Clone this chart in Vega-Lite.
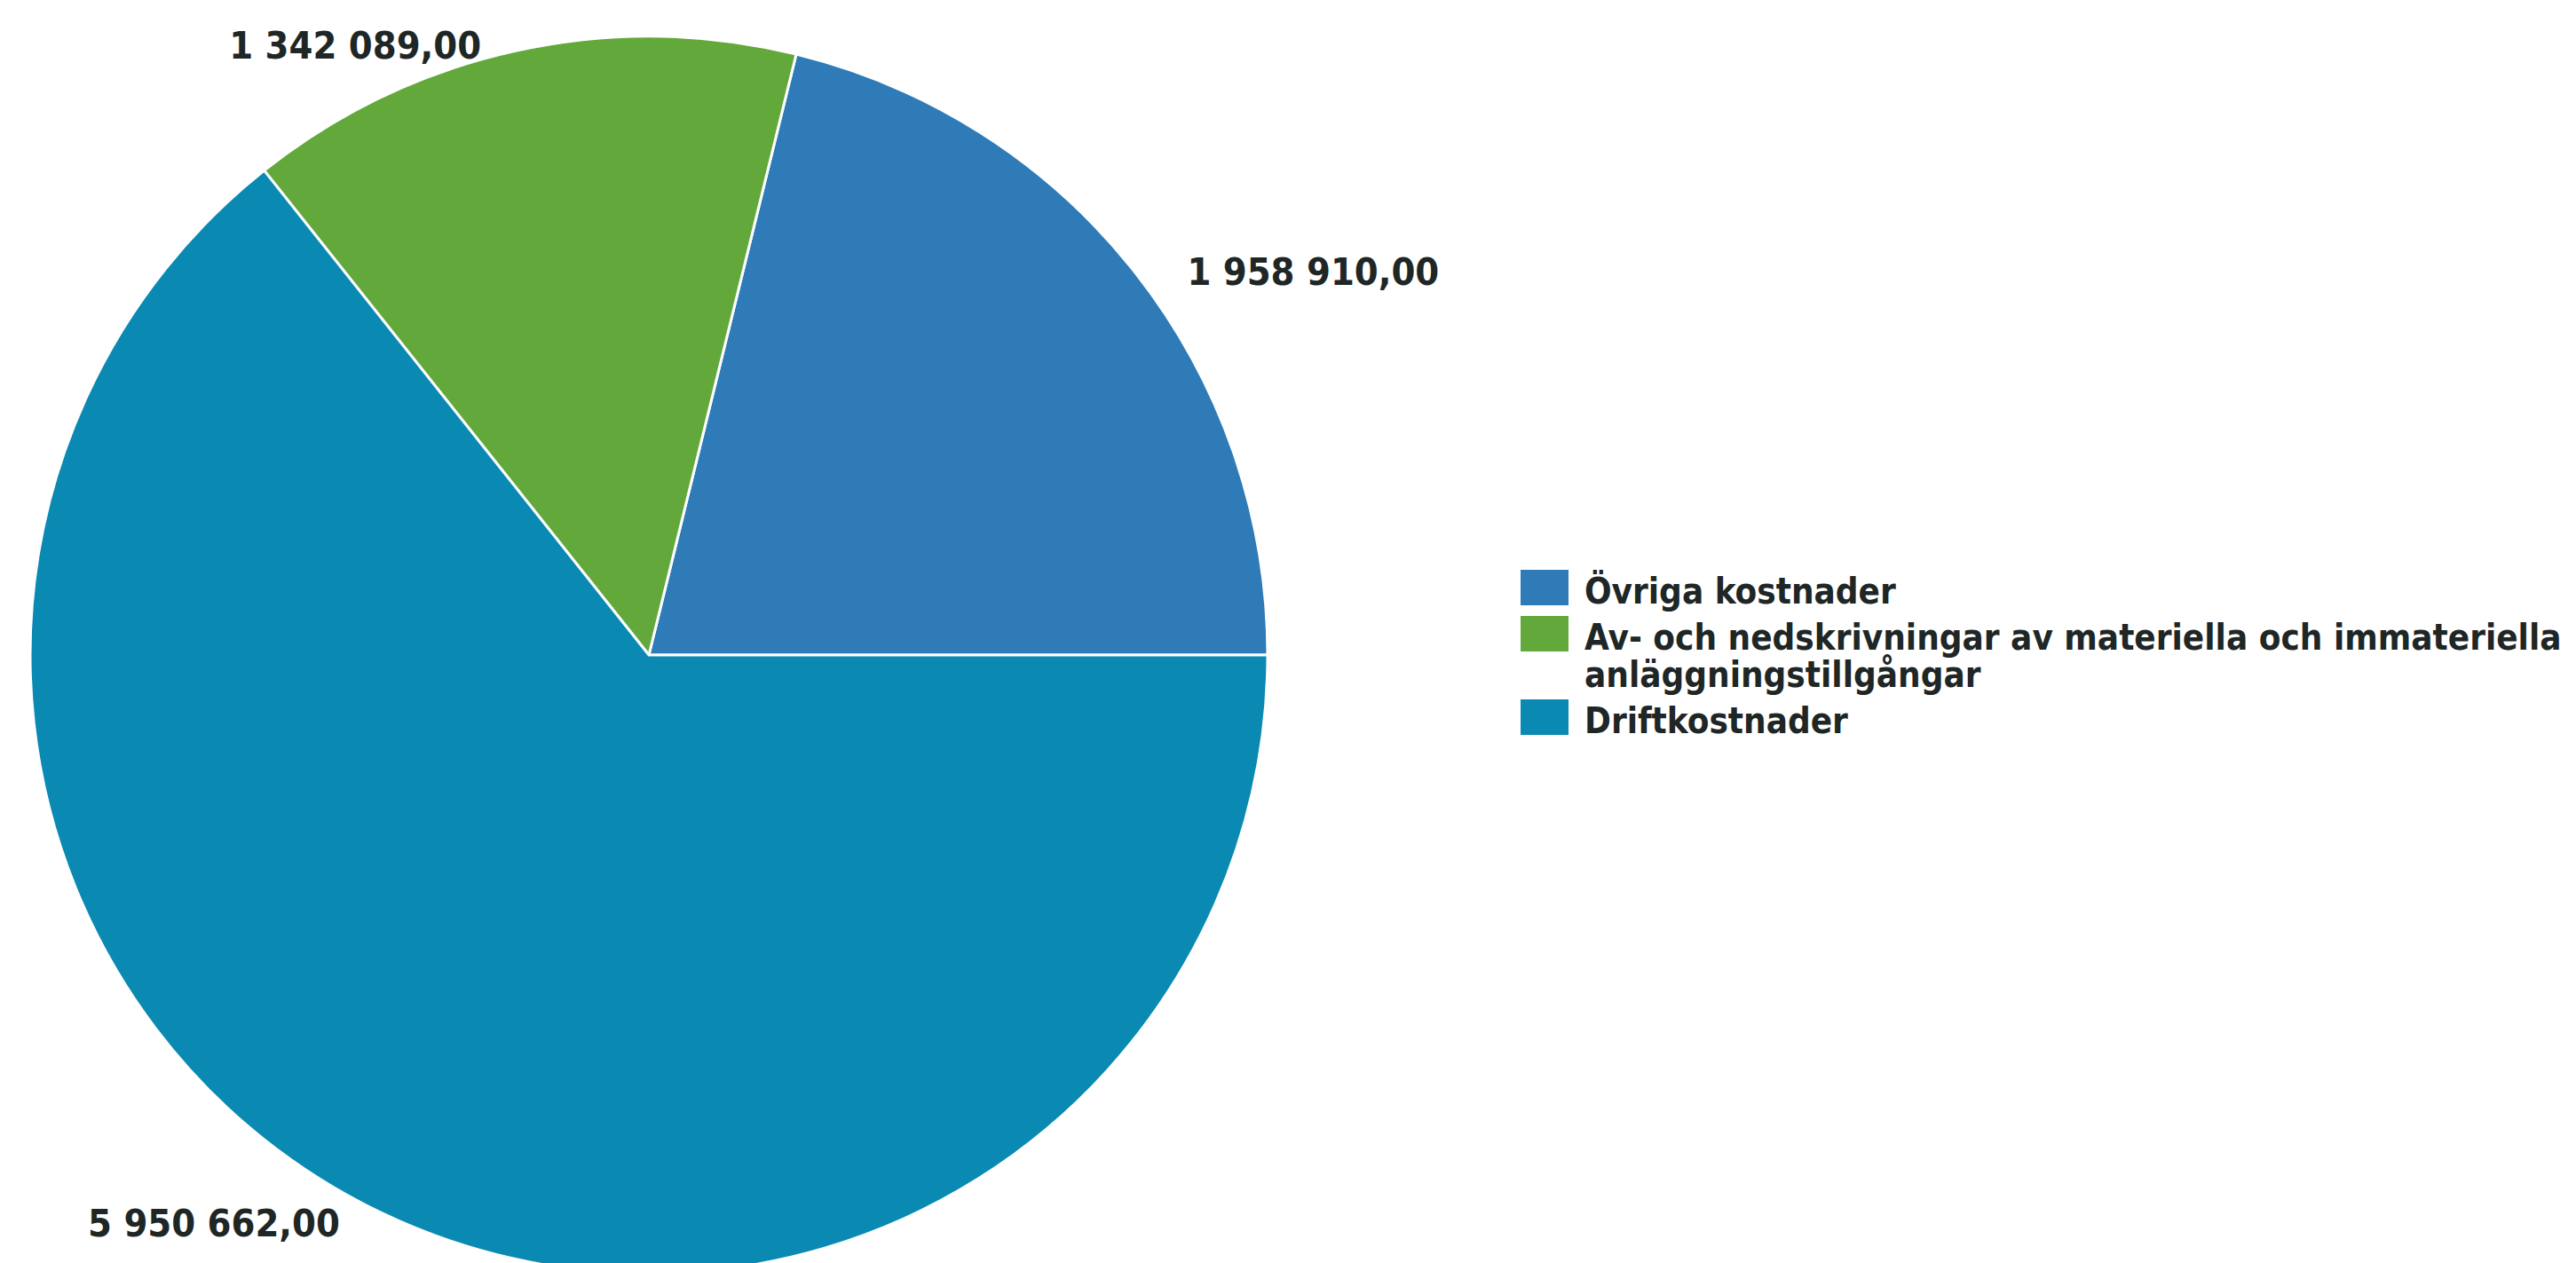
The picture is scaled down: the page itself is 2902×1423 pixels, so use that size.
{
  "$schema": "https://vega.github.io/schema/vega-lite/v6.json",
  "width": 2902,
  "height": 1423,
  "autosize": {"type": "none"},
  "padding": 0,
  "background": "white",
  "config": {
    "view": {"stroke": null},
    "locale": {"number": {"decimal": ",", "thousands": " ", "grouping": [3], "currency": ["", ""]}}
  },
  "data": {
    "values": [
      {"category": "Övriga kostnader", "value": 1958910, "rank": 3},
      {"category": "Av- och nedskrivningar av materiella och immateriella anläggningstillgångar", "value": 1342089, "rank": 2},
      {"category": "Driftkostnader", "value": 5950662, "rank": 1}
    ]
  },
  "encoding": {
    "theta": {"field": "value", "type": "quantitative", "stack": true, "scale": {"range": [1.5708, 7.8540]}},
    "order": {"field": "rank", "type": "quantitative"}
  },
  "layer": [
    {
      "mark": {"type": "arc", "x": 731, "y": 738, "outerRadius": 697, "stroke": "white", "strokeWidth": 3},
      "encoding": {
        "color": {
          "field": "category",
          "type": "nominal",
          "sort": ["Övriga kostnader", "Av- och nedskrivningar av materiella och immateriella anläggningstillgångar", "Driftkostnader"],
          "scale": {
            "domain": ["Övriga kostnader", "Av- och nedskrivningar av materiella och immateriella anläggningstillgångar", "Driftkostnader"],
            "range": ["#2e7bb8", "#62a83a", "#0a8ab2"]
          },
          "legend": {
            "title": null,
            "orient": "none",
            "legendX": 1713,
            "legendY": 653,
            "padding": 0,
            "rowPadding": 6,
            "labelFont": "DejaVu Sans Condensed",
            "labelFontSize": 40,
            "labelFontWeight": "bold",
            "labelColor": "#1e2626",
            "labelLimit": 0,
            "labelOffset": 18,
            "labelBaseline": "alphabetic",
            "labelLineHeight": 47,
            "symbolType": "M-1,-1.407H1V0.074H-1Z",
            "symbolSize": 2916,
            "symbolStrokeWidth": 0,
            "symbolOpacity": 1,
            "labelExpr": "indexof(datum.label, 'Av-') == 0 ? ['Av- och nedskrivningar av materiella och immateriella', 'anläggningstillgångar'] : datum.label"
          }
        }
      }
    },
    {
      "mark": {
        "type": "text",
        "x": 731,
        "y": 738,
        "radius": 697,
        "font": "DejaVu Sans Condensed",
        "fontSize": 43,
        "fontWeight": "bold",
        "color": "#1e2626",
        "baseline": "middle",
        "align": {"expr": "datum.category == 'Övriga kostnader' ? 'left' : 'right'"},
        "dx": {"expr": "datum.category == 'Övriga kostnader' ? 58 : (datum.category == 'Driftkostnader' ? -45 : -40)"},
        "dy": {"expr": "datum.category == 'Övriga kostnader' ? 0 : (datum.category == 'Driftkostnader' ? 14 : -4)"}
      },
      "encoding": {
        "text": {"field": "value", "type": "quantitative", "format": ",.2f"}
      }
    }
  ]
}
